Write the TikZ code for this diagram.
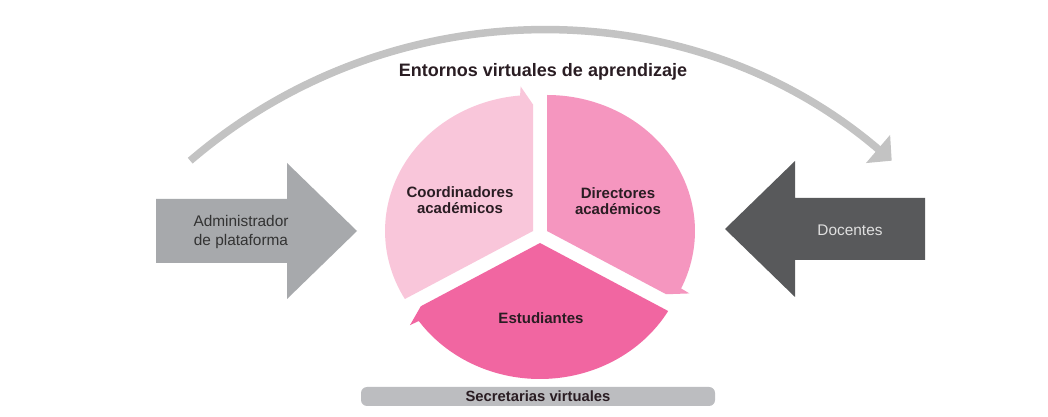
\documentclass[tikz,border=0pt]{standalone}
\usepackage{fontspec}
\setmainfont{Liberation Sans}
\usepackage{xcolor}
\usetikzlibrary{calc, arrows.meta, positioning}
\definecolor{arcgray}{HTML}{C3C3C3}
\definecolor{admingray}{HTML}{A7A9AC}
\definecolor{docgray}{HTML}{58595B}
\definecolor{bargray}{HTML}{BCBDC0}
\definecolor{coordpink}{HTML}{F9C6DA}
\definecolor{dirpink}{HTML}{F596BF}
\definecolor{estpink}{HTML}{F166A1}
\definecolor{labeldark}{HTML}{2A1D23}
\tikzset{
    textnode/.style = {draw=none, fill=none, rectangle, inner sep=0em, align=center,
      font=\fontsize{7.7}{9.5}\selectfont},
    boldnode/.style = {textnode, text=labeldark, font=\fontsize{7.5}{8.2}\selectfont\bfseries},
    barnode/.style = {rectangle, fill=bargray, rounded corners=3pt, inner sep=0em,
      minimum width=177pt, minimum height=9.5pt, text=labeldark,
      font=\fontsize{7.4}{8}\selectfont\bfseries},
    cyclearc/.style = {draw=arcgray, line width=3.75pt, -{Triangle[width=18pt, length=9pt]}},
    coordfill/.style = {fill=coordpink},
    dirfill/.style = {fill=dirpink},
    estfill/.style = {fill=estpink}
}

\begin{document}
\begin{tikzpicture}[x=0.5pt, y=0.5pt]
    \useasboundingbox (0,0) rectangle (1048,417);
    \fill[white] (0,0) rectangle (1048,417);

    \coordinate (arcstart) at (190.2,256.3);
    \draw[cyclearc] (arcstart) arc[start angle=130.6, end angle=49.4, radius=539];

    \fill[admingray] (156,154) -- (287,154) -- (287,118) -- (357,186) -- (287,254)
        -- (287,218) -- (156,218) -- cycle;
    \fill[docgray] (925,157) -- (795,157) -- (795,120) -- (725,188) -- (795,256)
        -- (795,219) -- (925,219) -- cycle;

    \begin{scope}[shift={(533,186)}, xscale=1.088]
        \fill[coordfill] (0,0) -- (210:136) arc[start angle=210, end angle=95, radius=136]
            -- (94.5:145) -- (90:126.5) -- cycle;
    \end{scope}
    \begin{scope}[shift={(547,186)}, xscale=1.088]
        \fill[dirfill] (0,0) -- (90:136) arc[start angle=90, end angle=-25, radius=136]
            -- (-25.5:145) -- (-30:126.5) -- cycle;
    \end{scope}
    \begin{scope}[shift={(540,174)}, xscale=1.088]
        \fill[estfill] (0,0) -- (-30:136) arc[start angle=-30, end angle=-145, radius=136]
            -- (-145.5:145) -- (-150:126.5) -- cycle;
    \end{scope}

    \node [name=entornos, boldnode, font=\fontsize{9}{10}\selectfont\bfseries] at (543,345)
        {Entornos virtuales de aprendizaje};
    \node [name=coord, boldnode] at (460,217) {Coordinadores\\académicos};
    \node [name=direct, boldnode] at (618,216) {Directores\\académicos};
    \node [name=estud, boldnode] at (541,99) {Estudiantes};
    \node [name=admin, textnode, text=black!80] at (241,185) {Administrador\\de plataforma};
    \node [name=docentes, textnode, text=black!12] at (850,187) {Docentes};
    \node [name=secret, barnode] at (538,20.5) {Secretarias virtuales};
\end{tikzpicture}
\end{document}
